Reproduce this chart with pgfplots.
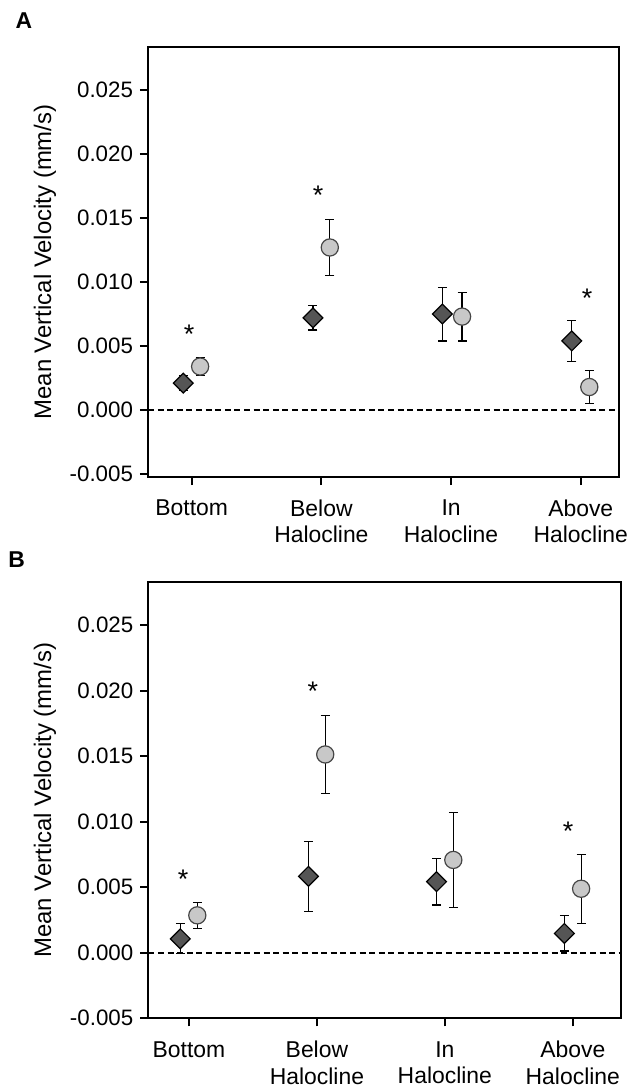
\documentclass[border=0pt]{standalone}
\usepackage{fontspec}
\setmainfont{Liberation Sans}
\usepackage{pgfplots}
\pgfplotsset{compat=1.18}

\definecolor{dia}{RGB}{85,85,85}
\definecolor{cir}{RGB}{200,200,200}
\definecolor{ciredge}{RGB}{70,70,70}

\tikzset{star/.style={font=\fontsize{13.5}{15}\selectfont, yshift=-2.7bp}}

\pgfplotsset{
 panel/.style={
  scale only axis,
  axis line style={line width=0.9bp},
  every tick/.style={black, line width=0.9bp},
  tick align=outside,
  major tick length=4bp,
  xtick={0,1,2,3},
  xticklabels={Bottom, Below\\Halocline, In\\Halocline, Above\\Halocline},
  xticklabel style={align=center, font=\fontsize{11.5}{13.2}\selectfont, yshift=-4bp},
  xtick pos=bottom, ytick pos=left,
  scaled y ticks=false,
  ytick={-0.005,0,0.005,0.010,0.015,0.020,0.025},
  yticklabels={-0.005,0.000,0.005,0.010,0.015,0.020,0.025},
  yticklabel style={font=\fontsize{11.2}{13}\selectfont},
  ylabel={Mean Vertical Velocity (mm/s)},
  ylabel style={at={(axis description cs:-0.2187,0.5)}, anchor=center, font=\fontsize{12}{14}\selectfont},
  clip=false,
 },
 diam/.style={only marks, mark=square*, mark size=3.5bp, mark options={rotate=45, fill=dia, draw=black, line width=0.6bp}},
 circ/.style={only marks, mark=*, mark size=4.3bp, mark options={fill=cir, draw=ciredge, line width=0.6bp}},
 ebar/.style={draw=none, mark=none, error bars/.cd, y dir=both, y explicit, error mark=-,
   error bar style={draw=black, line width=0.6bp},
   error mark options={rotate=90, draw=black, line width=0.6bp, mark size=2.25bp}},
 zline/.style={black, line width=0.7bp, dash pattern=on 3bp off 1.8bp},
}

\begin{document}
\begin{tikzpicture}
\path[use as bounding box] (0,0) rectangle (318bp,-543.5bp);

% Panel A
\begin{axis}[panel, at={(74bp,-238.5bp)}, anchor=south west,
  width=235.5bp, height=215bp,
  xmin=-0.337, xmax=3.295, ymin=-0.00523, ymax=0.02836]
 \addplot[zline] coordinates {(-0.337,0) (3.295,0)};
 \addplot[diam] coordinates {(-0.065,0.0021) (0.935,0.0072) (1.933,0.0075) (2.931,0.0054)};
 \addplot[circ] coordinates {(0.065,0.0034) (1.065,0.0127) (2.085,0.0073) (3.066,0.0018)};
 \addplot[ebar] coordinates {(-0.065,0.0021) +- (0,0.0006) (0.935,0.0072) +- (0,0.00094) (1.933,0.0075) +- (0,0.0021) (2.931,0.0054) +- (0,0.0016)};
 \addplot[ebar] coordinates {(0.065,0.0034) +- (0,0.0007) (1.065,0.0127) +- (0,0.0022) (2.085,0.0073) +- (0,0.0019) (3.066,0.0018) +- (0,0.0013)};
 \node[star] at (axis cs:-0.02,0.00633) {*};
 \node[star] at (axis cs:0.975,0.01724) {*};
 \node[star] at (axis cs:3.05,0.00917) {*};
\end{axis}
\node[font=\bfseries\fontsize{11.5}{12}\selectfont] at (12bp,-10.15bp) {A};

% Panel B
\begin{axis}[panel, at={(74.15bp,-509.15bp)}, anchor=south west,
  width=236.2bp, height=218bp,
  xmin=-0.318, xmax=3.375, ymin=-0.005, ymax=0.02828]
 \addplot[zline] coordinates {(-0.318,0) (3.375,0)};
 \addplot[diam] coordinates {(-0.068,0.00107) (0.934,0.00584) (1.935,0.00543) (2.934,0.00148)};
 \addplot[circ] coordinates {(0.065,0.00286) (1.065,0.01514) (2.066,0.00709) (3.065,0.00489)};
 \addplot[ebar] coordinates {(-0.068,0.00107) +- (0,0.00115) (0.934,0.00584) +- (0,0.00267) (1.935,0.00543) +- (0,0.00178) (2.934,0.00148) +- (0,0.00134)};
 \addplot[ebar] coordinates {(0.065,0.00286) +- (0,0.00098) (1.065,0.01514) +- (0,0.003) (2.066,0.00709) +- (0,0.00365) (3.065,0.00489) +- (0,0.00264)};
 \node[star] at (axis cs:-0.045,0.00602) {*};
 \node[star] at (axis cs:0.969,0.02034) {*};
 \node[star] at (axis cs:2.963,0.00971) {*};
\end{axis}
\node[font=\bfseries\fontsize{11.5}{12}\selectfont] at (8.35bp,-280bp) {B};
\end{tikzpicture}
\end{document}
